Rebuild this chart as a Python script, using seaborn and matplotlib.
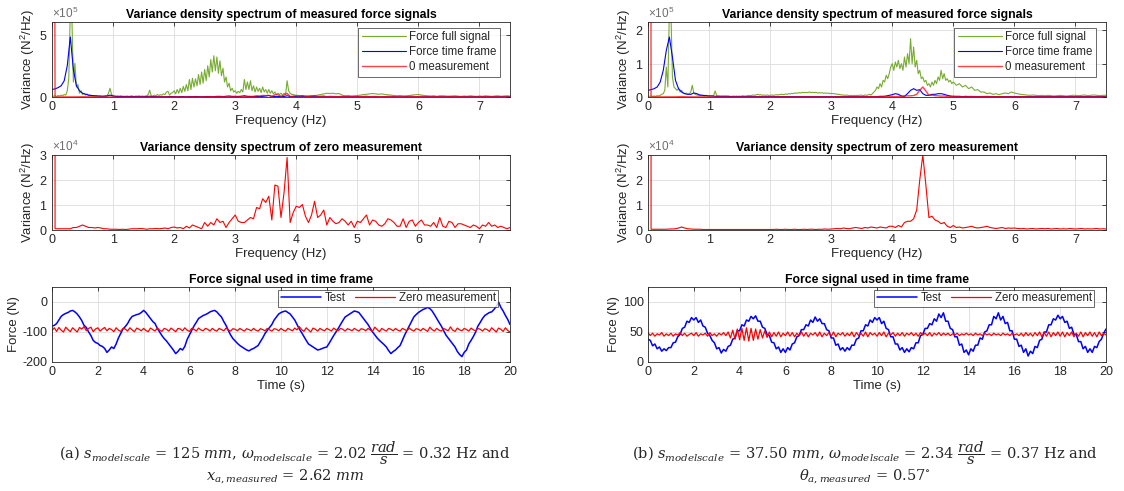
import numpy as np
import matplotlib
matplotlib.use("Agg")
import matplotlib.pyplot as plt
from matplotlib.ticker import ScalarFormatter
import seaborn as sns

# ---------------- DATA ----------------
# spectra step sizes (Hz): fine part and coarse part
F_FINE = 0.025
F_COARSE = 0.05

# (a) left column -------------------------------------------------------
# Force full signal, x1e5 N^2/Hz, 0 .. 3.975 Hz (step 0.025)
green_a_fine = [
    0.10, 0.05, 0.10, 0.05, 0.12, 0.08, 0.15, 0.10,
    0.20, 0.15, 0.50, 1.50, 7.00, 6.50, 1.20, 2.70,
    0.80, 1.00, 0.30, 0.50, 0.20, 0.30, 0.15, 0.25,
    0.10, 0.15, 0.08, 0.10, 0.06, 0.12, 0.05, 0.08,
    0.06, 0.05, 0.08, 0.10, 0.10, 0.30, 0.70, 0.20,
    0.10, 0.08, 0.05, 0.08, 0.06, 0.10, 0.05, 0.07,
    0.05, 0.08, 0.06, 0.05, 0.10, 0.06, 0.05, 0.08,
    0.06, 0.10, 0.05, 0.08, 0.06, 0.07, 0.10, 0.20,
    0.55, 0.10, 0.08, 0.15, 0.10, 0.20, 0.12, 0.18,
    0.15, 0.25, 0.20, 0.40, 0.45, 0.15, 0.30, 0.35,
    0.50, 0.25, 0.60, 0.30, 0.70, 0.35, 0.85, 0.45,
    1.00, 0.50, 1.40, 0.60, 1.50, 0.80, 1.45, 0.90,
    1.80, 1.00, 2.00, 1.10, 2.20, 1.30, 2.50, 1.60,
    3.00, 2.00, 3.30, 2.10, 3.20, 1.90, 2.90, 1.70,
    2.30, 1.20, 1.60, 0.80, 1.10, 0.50, 0.70, 0.40,
    0.50, 0.30, 0.45, 0.35, 0.60, 0.40, 1.40, 0.60,
    1.20, 0.60, 1.30, 0.50, 0.90, 0.40, 0.80, 0.45,
    0.70, 0.35, 0.80, 0.40, 0.60, 0.30, 0.60, 0.30,
    0.50, 0.25, 0.40, 0.20, 0.30, 0.20, 0.30, 0.15,
    0.30, 0.20, 1.30, 0.50, 0.30, 0.20, 0.20, 0.15,
]
# Force full signal, x1e5, 4.0 .. 7.5 Hz (step 0.05)
green_a_coarse = [
    0.15, 0.10, 0.12, 0.08, 0.10, 0.12, 0.10, 0.15, 0.20, 0.25,
    0.30, 0.28, 0.30, 0.25, 0.28, 0.15, 0.10, 0.12, 0.08, 0.10,
    0.12, 0.15, 0.20, 0.22, 0.25, 0.28, 0.25, 0.22, 0.25, 0.20,
    0.18, 0.15, 0.12, 0.10, 0.12, 0.08, 0.10, 0.12, 0.15, 0.18,
    0.20, 0.15, 0.12, 0.10, 0.08, 0.10, 0.06, 0.08, 0.10, 0.08,
    0.06, 0.08, 0.10, 0.07, 0.05, 0.08, 0.06, 0.10, 0.07, 0.05,
    0.08, 0.06, 0.10, 0.07, 0.05, 0.08, 0.10, 0.06, 0.08, 0.10,
    0.08,
]
# Force time frame, x1e5, 0 .. 7.5 Hz (step 0.05)
blue_a = [
    0.60, 0.65, 0.75, 0.90, 1.30, 2.50, 4.80, 2.20, 0.90, 0.50,
    0.30, 0.22, 0.15, 0.12, 0.10, 0.08, 0.07, 0.06, 0.08, 0.15,
    0.08, 0.05, 0.04, 0.04, 0.03, 0.03, 0.04, 0.03, 0.03, 0.03,
    0.03, 0.04, 0.06, 0.03, 0.03, 0.02, 0.03, 0.02, 0.03, 0.04,
    0.03, 0.02, 0.03, 0.03, 0.02, 0.03, 0.03, 0.04, 0.03, 0.02,
    0.03, 0.04, 0.03, 0.03, 0.04, 0.05, 0.03, 0.06, 0.08, 0.04,
    0.03, 0.04, 0.06, 0.10, 0.05, 0.03, 0.04, 0.05, 0.03, 0.05,
    0.08, 0.12, 0.05, 0.03, 0.03, 0.05, 0.04, 0.10, 0.04, 0.03,
    0.03, 0.02, 0.03, 0.02, 0.02, 0.03, 0.02, 0.02, 0.02, 0.02,
    0.02, 0.02, 0.02, 0.02, 0.02, 0.02, 0.02, 0.02, 0.02, 0.02,
    0.02, 0.01, 0.02, 0.01, 0.02, 0.01, 0.02, 0.01, 0.01, 0.02,
    0.01, 0.01, 0.02, 0.01, 0.01, 0.01, 0.02, 0.01, 0.01, 0.01,
    0.01, 0.01, 0.01, 0.02, 0.01, 0.01, 0.01, 0.01, 0.01, 0.01,
    0.01, 0.01, 0.01, 0.01, 0.01, 0.01, 0.01, 0.01, 0.01, 0.01,
    0.01, 0.01, 0.01, 0.01, 0.01, 0.01, 0.01, 0.01, 0.01, 0.01,
    0.01,
]
# Zero measurement, x1e4, 0 .. 7.5 Hz (step 0.05)
red_a = [
    1000, 0.05, 0.05, 0.05, 0.05, 0.05, 0.05, 0.10, 0.10, 0.15,
    0.20, 0.15, 0.10, 0.10, 0.08, 0.10, 0.08, 0.05, 0.05, 0.03,
    0.03, 0.03, 0.02, 0.03, 0.02, 0.03, 0.05, 0.05, 0.05, 0.06,
    0.05, 0.03, 0.05, 0.05, 0.06, 0.05, 0.06, 0.08, 0.05, 0.10,
    0.12, 0.08, 0.10, 0.05, 0.15, 0.08, 0.20, 0.15, 0.10, 0.05,
    0.30, 0.15, 0.30, 0.20, 0.45, 0.30, 0.35, 0.10, 0.30, 0.45,
    0.60, 0.35, 0.30, 0.30, 0.40, 0.50, 0.45, 0.90, 0.85, 1.25,
    1.10, 1.35, 0.40, 1.80, 1.75, 0.50, 1.50, 2.90, 0.30, 0.70,
    0.95, 0.90, 1.02, 0.55, 0.30, 0.60, 1.15, 0.50, 0.60, 0.80,
    0.20, 0.50, 0.35, 0.25, 0.30, 0.45, 0.35, 0.20, 0.35, 0.10,
    0.35, 0.30, 0.45, 0.60, 0.20, 0.40, 0.35, 0.20, 0.15, 0.25,
    0.45, 0.40, 0.30, 0.15, 0.15, 0.45, 0.10, 0.35, 0.40, 0.15,
    0.30, 0.40, 0.20, 0.20, 0.15, 0.30, 0.10, 0.50, 0.15, 0.10,
    0.35, 0.30, 0.10, 0.25, 0.25, 0.20, 0.15, 0.10, 0.20, 0.15,
    0.05, 0.20, 0.15, 0.30, 0.15, 0.20, 0.10, 0.15, 0.10, 0.05,
    0.10,
]

# (b) right column ------------------------------------------------------
# Force full signal, x1e5, 0 .. 4.975 Hz (step 0.025)
green_b_fine = [
    0.02, 0.02, 0.03, 0.02, 0.03, 0.02, 0.04, 0.03,
    0.05, 0.08, 0.10, 0.20, 0.90, 0.30, 2.60, 2.60,
    0.60, 0.30, 0.25, 0.20, 0.25, 0.15, 0.20, 0.12,
    0.10, 0.12, 0.08, 0.10, 0.15, 0.35, 0.12, 0.08,
    0.06, 0.05, 0.04, 0.05, 0.04, 0.03, 0.05, 0.04,
    0.03, 0.04, 0.03, 0.05, 0.18, 0.04, 0.03, 0.03,
    0.02, 0.03, 0.02, 0.03, 0.02, 0.03, 0.02, 0.02,
    0.03, 0.02, 0.03, 0.02, 0.03, 0.02, 0.04, 0.03,
    0.03, 0.04, 0.05, 0.04, 0.05, 0.06, 0.05, 0.07,
    0.08, 0.06, 0.07, 0.05, 0.06, 0.05, 0.06, 0.05,
    0.05, 0.06, 0.05, 0.06, 0.07, 0.06, 0.07, 0.08,
    0.08, 0.07, 0.09, 0.08, 0.10, 0.09, 0.11, 0.10,
    0.12, 0.11, 0.12, 0.13, 0.12, 0.14, 0.13, 0.14,
    0.13, 0.14, 0.15, 0.13, 0.14, 0.13, 0.14, 0.12,
    0.13, 0.12, 0.13, 0.11, 0.12, 0.11, 0.12, 0.10,
    0.11, 0.10, 0.10, 0.09, 0.08, 0.08, 0.07, 0.06,
    0.06, 0.05, 0.06, 0.05, 0.04, 0.05, 0.04, 0.05,
    0.04, 0.05, 0.04, 0.06, 0.05, 0.04, 0.06, 0.05,
    0.06, 0.08, 0.06, 0.10, 0.15, 0.20, 0.30, 0.25,
    0.40, 0.30, 0.50, 0.45, 0.65, 0.55, 0.70, 0.90,
    1.00, 0.80, 1.05, 0.90, 1.10, 0.85, 1.00, 0.80,
    1.20, 0.90, 1.30, 1.00, 1.75, 1.00, 1.50, 0.90,
    1.10, 0.70, 0.80, 0.55, 0.60, 0.45, 0.50, 0.35,
    0.40, 0.30, 0.45, 0.35, 0.50, 0.40, 0.60, 0.50,
    0.80, 0.55, 0.70, 0.50, 0.55, 0.45, 0.50, 0.40,
]
# Force full signal, x1e5, 5.0 .. 7.5 Hz (step 0.05)
green_b_coarse = [
    0.45, 0.35, 0.40, 0.30, 0.35, 0.25, 0.30, 0.20, 0.22, 0.15,
    0.15, 0.10, 0.12, 0.08, 0.10, 0.07, 0.10, 0.12, 0.10, 0.15,
    0.12, 0.10, 0.08, 0.07, 0.06, 0.05, 0.06, 0.05, 0.04, 0.05,
    0.04, 0.05, 0.04, 0.03, 0.04, 0.05, 0.04, 0.03, 0.04, 0.05,
    0.05, 0.04, 0.05, 0.06, 0.04, 0.05, 0.06, 0.05, 0.04, 0.05,
    0.05,
]
# Force time frame, x1e5, 0 .. 7.5 Hz (step 0.05)
blue_b = [
    0.20, 0.22, 0.25, 0.30, 0.45, 0.80, 1.40, 1.80, 1.20, 0.50,
    0.25, 0.15, 0.10, 0.08, 0.08, 0.12, 0.10, 0.06, 0.05, 0.04,
    0.03, 0.03, 0.02, 0.02, 0.02, 0.02, 0.02, 0.01, 0.01, 0.01,
    0.01, 0.01, 0.01, 0.01, 0.01, 0.01, 0.01, 0.01, 0.01, 0.01,
    0.01, 0.01, 0.01, 0.01, 0.01, 0.01, 0.01, 0.01, 0.01, 0.01,
    0.01, 0.01, 0.01, 0.01, 0.01, 0.01, 0.01, 0.01, 0.01, 0.01,
    0.01, 0.01, 0.01, 0.01, 0.01, 0.01, 0.01, 0.01, 0.01, 0.01,
    0.01, 0.01, 0.01, 0.01, 0.01, 0.01, 0.02, 0.02, 0.03, 0.05,
    0.07, 0.10, 0.08, 0.03, 0.02, 0.10, 0.20, 0.25, 0.20, 0.22,
    0.10, 0.05, 0.05, 0.08, 0.08, 0.10, 0.10, 0.08, 0.05, 0.03,
    0.02, 0.02, 0.02, 0.01, 0.02, 0.01, 0.01, 0.01, 0.01, 0.01,
    0.01, 0.01, 0.01, 0.01, 0.01, 0.01, 0.01, 0.01, 0.01, 0.01,
    0.01, 0.01, 0.01, 0.01, 0.01, 0.01, 0.01, 0.01, 0.01, 0.01,
    0.01, 0.01, 0.01, 0.01, 0.01, 0.01, 0.01, 0.01, 0.01, 0.01,
    0.01, 0.01, 0.01, 0.01, 0.01, 0.01, 0.01, 0.01, 0.01, 0.01,
    0.01,
]
# Zero measurement, x1e4, 0 .. 7.5 Hz (step 0.05)
red_b = [
    1000, 0.03, 0.03, 0.03, 0.03, 0.03, 0.03, 0.04, 0.04, 0.05,
    0.08, 0.12, 0.08, 0.05, 0.04, 0.03, 0.03, 0.03, 0.02, 0.02,
    0.02, 0.02, 0.02, 0.02, 0.02, 0.02, 0.02, 0.02, 0.02, 0.02,
    0.02, 0.02, 0.02, 0.02, 0.02, 0.02, 0.02, 0.02, 0.02, 0.02,
    0.02, 0.02, 0.03, 0.02, 0.02, 0.03, 0.02, 0.02, 0.03, 0.02,
    0.02, 0.03, 0.02, 0.03, 0.03, 0.02, 0.03, 0.03, 0.04, 0.03,
    0.04, 0.05, 0.06, 0.05, 0.08, 0.06, 0.05, 0.08, 0.10, 0.08,
    0.06, 0.10, 0.08, 0.12, 0.10, 0.08, 0.12, 0.10, 0.08, 0.15,
    0.15, 0.10, 0.18, 0.12, 0.30, 0.35, 0.35, 0.45, 0.80, 2.00,
    3.00, 1.80, 0.50, 0.55, 0.40, 0.35, 0.25, 0.30, 0.15, 0.10,
    0.18, 0.10, 0.12, 0.08, 0.10, 0.12, 0.15, 0.10, 0.08, 0.10,
    0.12, 0.15, 0.10, 0.08, 0.06, 0.08, 0.10, 0.06, 0.08, 0.07,
    0.08, 0.06, 0.05, 0.06, 0.04, 0.05, 0.06, 0.04, 0.05, 0.06,
    0.05, 0.06, 0.04, 0.05, 0.06, 0.04, 0.05, 0.04, 0.06, 0.05,
    0.04, 0.05, 0.06, 0.04, 0.05, 0.04, 0.05, 0.06, 0.04, 0.05,
    0.04,
]

# time signals, sampled every 0.1 s from 0 to 20 s (N)
T_STEP = 0.1
test_a = [
    -80, -78, -72, -60, -48, -42, -38, -35, -30, -28,
    -33, -40, -50, -62, -78, -85, -100, -112, -128, -135,
    -138, -145, -148, -155, -168, -160, -150, -155, -140, -120,
    -105, -90, -82, -72, -58, -48, -45, -42, -40, -35,
    -28, -35, -45, -55, -65, -72, -88, -100, -112, -122,
    -130, -140, -150, -160, -172, -165, -155, -160, -148, -125,
    -110, -95, -80, -68, -55, -50, -45, -42, -38, -33,
    -30, -28, -33, -42, -50, -65, -78, -95, -110, -122,
    -130, -138, -145, -150, -155, -160, -163, -158, -155, -150,
    -145, -132, -120, -105, -95, -85, -75, -60, -50, -40,
    -35, -32, -30, -35, -40, -50, -60, -75, -90, -102,
    -115, -128, -140, -145, -150, -155, -160, -158, -155, -152,
    -150, -138, -125, -112, -100, -88, -75, -62, -50, -45,
    -40, -35, -30, -32, -35, -45, -55, -65, -75, -88,
    -100, -110, -120, -128, -135, -142, -150, -162, -172, -165,
    -160, -152, -145, -128, -110, -95, -80, -65, -50, -42,
    -35, -30, -25, -22, -18, -22, -30, -42, -55, -68,
    -80, -95, -110, -120, -130, -140, -150, -165, -175, -182,
    -168, -160, -140, -128, -115, -100, -80, -68, -55, -45,
    -40, -35, -33, -25, -15, 0, -18, -30, -45, -58,
    -75,
]
zero_a = [
    -95, -86, -98, -85, -94, -100, -84, -92, -99, -86,
    -93, -100, -85, -90, -82, -96, -88, -84, -99, -90,
    -86, -97, -90, -85, -96, -88, -92, -99, -86, -94,
    -98, -88, -90, -97, -86, -93, -99, -87, -91, -96,
    -88, -95, -99, -87, -92, -97, -86, -94, -98, -88,
    -91, -97, -87, -93, -99, -88, -90, -96, -86, -94,
    -98, -88, -91, -97, -87, -93, -96, -88, -91, -97,
    -88, -94, -97, -88, -92, -96, -87, -93, -97, -89,
    -91, -96, -88, -93, -97, -89, -92, -96, -88, -94,
    -97, -89, -92, -96, -88, -93, -97, -89, -91, -96,
    -88, -94, -97, -88, -92, -96, -87, -93, -82, -92,
    -98, -86, -93, -100, -87, -91, -97, -88, -93, -96,
    -88, -92, -97, -87, -93, -96, -88, -91, -97, -89,
    -92, -96, -88, -93, -97, -89, -91, -96, -88, -94,
    -97, -84, -92, -99, -88, -93, -97, -88, -91, -96,
    -88, -94, -97, -88, -92, -96, -87, -93, -97, -89,
    -91, -96, -88, -93, -98, -84, -92, -97, -88, -94,
    -97, -88, -92, -96, -83, -94, -98, -87, -93, -96,
    -88, -92, -97, -87, -93, -96, -88, -91, -97, -89,
    -92, -98, -86, -93, -100, -87, -91, -98, -86, -95,
    -100,
]
test_b = [
    38, 36, 27, 30, 22, 25, 18, 22, 19, 24,
    24, 32, 33, 42, 46, 56, 58, 68, 66, 74,
    70, 74, 66, 70, 60, 58, 48, 44, 36, 32,
    22, 24, 15, 21, 18, 26, 28, 38, 40, 52,
    52, 62, 60, 70, 68, 76, 72, 77, 68, 68,
    58, 56, 46, 44, 33, 32, 22, 25, 16, 22,
    16, 24, 20, 30, 32, 42, 44, 54, 54, 62,
    60, 70, 66, 75, 68, 72, 64, 64, 54, 52,
    40, 40, 28, 30, 20, 24, 18, 24, 20, 28,
    28, 38, 40, 52, 52, 62, 60, 70, 66, 74,
    70, 74, 64, 68, 56, 54, 42, 42, 30, 30,
    20, 24, 16, 22, 17, 24, 22, 32, 32, 44,
    46, 56, 56, 64, 62, 72, 68, 80, 74, 82,
    68, 68, 56, 54, 42, 42, 28, 30, 16, 20,
    12, 22, 18, 28, 28, 40, 38, 50, 52, 62,
    62, 76, 72, 82, 70, 76, 64, 66, 52, 52,
    38, 38, 26, 28, 16, 22, 10, 18, 14, 26,
    24, 36, 38, 50, 50, 62, 62, 72, 70, 78,
    72, 76, 66, 68, 56, 58, 46, 46, 34, 34,
    22, 26, 16, 22, 16, 26, 24, 34, 38, 48,
    55,
]
zero_b = [
    49, 44, 48, 43, 47, 45, 49, 43, 47, 44,
    48, 43, 47, 45, 49, 44, 48, 43, 46, 48,
    44, 49, 43, 47, 45, 48, 43, 49, 44, 47,
    43, 48, 45, 49, 44, 50, 40, 53, 38, 55,
    37, 56, 36, 57, 35, 56, 36, 55, 38, 54,
    40, 52, 41, 50, 42, 49, 43, 50, 42, 48,
    44, 50, 43, 49, 42, 48, 44, 50, 43, 49,
    42, 48, 45, 49, 43, 50, 42, 48, 44, 49,
    43, 50, 42, 48, 45, 49, 43, 48, 44, 50,
    42, 49, 44, 48, 43, 50, 42, 49, 45, 48,
    43, 49, 44, 50, 42, 48, 45, 49, 43, 48,
    44, 49, 43, 48, 45, 49, 44, 48, 43, 49,
    45, 48, 44, 49, 43, 48, 45, 49, 44, 48,
    45, 48, 44, 47, 45, 48, 44, 47, 45, 48,
    45, 47, 44, 48, 45, 47, 44, 48, 45, 47,
    44, 48, 45, 47, 44, 48, 45, 47, 44, 48,
    45, 47, 44, 48, 43, 49, 44, 48, 43, 49,
    44, 50, 42, 49, 43, 50, 42, 49, 44, 50,
    43, 50, 42, 49, 44, 50, 42, 48, 43, 50,
    42, 49, 44, 50, 43, 49, 42, 50, 44, 48,
    45,
]

# labels
title_top = "Variance density spectrum of measured force signals"
title_mid = "Variance density spectrum of zero measurement"
title_bot = "Force signal used in time frame"
legend_top = ["Force full signal", "Force time frame", "0 measurement"]
legend_bot = ["Test", "Zero measurement"]
caption_a = [r"(a) $s_{modelscale}$ = 125 $mm$, $\omega_{modelscale}$ = 2.02 $\dfrac{rad}{s}$ = 0.32 Hz and",
             r"$x_{a,measured}$ = 2.62 $mm$"]
caption_b = [r"(b) $s_{modelscale}$ = 37.50 $mm$, $\omega_{modelscale}$ = 2.34 $\dfrac{rad}{s}$ = 0.37 Hz and",
             r"$\theta_{a,measured}$ = 0.57$^{\circ}$"]

# ---------------- STYLE ----------------
sns.set_style("white")
plt.rcParams["font.family"] = ["Liberation Sans", "DejaVu Sans"]
plt.rcParams["axes.unicode_minus"] = False
plt.rcParams["mathtext.fontset"] = "custom"
plt.rcParams["mathtext.rm"] = "Liberation Sans"
plt.rcParams["mathtext.it"] = "Liberation Sans:italic"

GREEN = "#77AC30"
BLUE = "#0000FF"
RED = "#FF0000"
DARK = "#262626"

W, H = 1124, 491
fig = plt.figure(figsize=(W / 100, H / 100), dpi=100)


def add_ax(x0, y_top, w, h):
    return fig.add_axes([x0 / W, 1 - (y_top + h) / H, w / W, h / H])


def style_ax(ax):
    ax.grid(True, color="#dcdcdc", linewidth=0.6)
    ax.set_axisbelow(True)
    for s in ax.spines.values():
        s.set_color(DARK)
        s.set_linewidth(0.6)
        s.set_visible(True)
    ax.tick_params(direction="in", length=3, width=0.6, top=True, right=True,
                   labelsize=9, colors=DARK, pad=3)


def sci_y(ax):
    fmt = ScalarFormatter(useMathText=True)
    fmt.set_powerlimits((0, 0))
    ax.yaxis.set_major_formatter(fmt)
    ot = ax.yaxis.get_offset_text()
    ot.set_fontsize(8.5)
    ot.set_color("#6e6e6e")


def freq_axis(fine, coarse, fine_step=F_FINE, coarse_step=F_COARSE):
    f1 = np.arange(len(fine)) * fine_step
    f2 = len(fine) * fine_step + np.arange(len(coarse)) * coarse_step
    return np.concatenate([f1, f2]), np.concatenate([fine, coarse])


cols = [
    dict(x0=52, gf=green_a_fine, gc=green_a_coarse, blue=blue_a, red=red_a,
         ytop=6e5, yt_top=[0, 5e5], test=test_a, zero=zero_a,
         ylim_bot=(-200, 50), yt_bot=[-200, -100, 0], cap=caption_a, capx=285),
    dict(x0=648, gf=green_b_fine, gc=green_b_coarse, blue=blue_b, red=red_b,
         ytop=2.25e5, yt_top=[0, 1e5, 2e5], test=test_b, zero=zero_b,
         ylim_bot=(0, 125), yt_bot=[0, 50, 100], cap=caption_b, capx=865),
]

AW = 458
for c in cols:
    # ---- top: spectra of force signals
    ax = add_ax(c["x0"], 22, AW, 75)
    fg, vg = freq_axis(c["gf"], c["gc"])
    fb = np.arange(len(c["blue"])) * F_COARSE
    fr = np.arange(len(c["red"])) * F_COARSE
    sns.lineplot(x=fg, y=np.array(vg) * 1e5, ax=ax, color=GREEN, linewidth=0.8,
                 label=legend_top[0], sort=False, estimator=None)
    sns.lineplot(x=fb, y=np.array(c["blue"]) * 1e5, ax=ax, color=BLUE, linewidth=0.8,
                 label=legend_top[1], sort=False, estimator=None)
    sns.lineplot(x=fr, y=np.array(c["red"]) * 1e4, ax=ax, color=RED, linewidth=1.0,
                 alpha=0.75, label=legend_top[2], sort=False, estimator=None)
    ax.set_xlim(0, 7.5)
    ax.set_ylim(0, c["ytop"])
    ax.set_xticks(range(0, 8))
    ax.set_yticks(c["yt_top"])
    style_ax(ax)
    sci_y(ax)
    ax.set_title(title_top, fontsize=8.8, fontweight="bold", pad=3, color="black")
    ax.set_xlabel("Frequency (Hz)", fontsize=9.5, color=DARK, labelpad=1)
    ax.set_ylabel("Variance (N$^2$/Hz)", fontsize=9.5, color=DARK, labelpad=2)
    leg = ax.legend(loc="upper right", bbox_to_anchor=(1 - 10 / AW, 1 - 6 / 75),
                    fontsize=8.3, frameon=True, fancybox=False, borderpad=0.3,
                    labelspacing=0.25, handlelength=3.8, handletextpad=0.3,
                    borderaxespad=0)
    leg.get_frame().set_edgecolor(DARK)
    leg.get_frame().set_linewidth(0.6)

    # ---- middle: zero measurement spectrum
    ax = add_ax(c["x0"], 155, AW, 75)
    sns.lineplot(x=fr, y=np.array(c["red"]) * 1e4, ax=ax, color=RED, linewidth=0.8,
                 sort=False, estimator=None)
    ax.set_xlim(0, 7.5)
    ax.set_ylim(0, 3e4)
    ax.set_xticks(range(0, 8))
    ax.set_yticks([0, 1e4, 2e4, 3e4])
    style_ax(ax)
    sci_y(ax)
    ax.set_title(title_mid, fontsize=8.8, fontweight="bold", pad=3, color="black")
    ax.set_xlabel("Frequency (Hz)", fontsize=9.5, color=DARK, labelpad=1)
    ax.set_ylabel("Variance (N$^2$/Hz)", fontsize=9.5, color=DARK, labelpad=2)

    # ---- bottom: time signals
    ax = add_ax(c["x0"], 287, AW, 75)
    t = np.arange(len(c["test"])) * T_STEP
    sns.lineplot(x=t, y=c["test"], ax=ax, color=BLUE, linewidth=1.1,
                 label=legend_bot[0], sort=False, estimator=None)
    sns.lineplot(x=t, y=c["zero"], ax=ax, color=RED, linewidth=0.9,
                 label=legend_bot[1], sort=False, estimator=None)
    ax.set_xlim(0, 20)
    ax.set_ylim(*c["ylim_bot"])
    ax.set_xticks(range(0, 21, 2))
    ax.set_yticks(c["yt_bot"])
    style_ax(ax)
    ax.set_title(title_bot, fontsize=8.8, fontweight="bold", pad=3, color="black")
    ax.set_xlabel("Time (s)", fontsize=9.5, color=DARK, labelpad=1)
    ax.set_ylabel("Force (N)", fontsize=9.5, color=DARK, labelpad=2)
    leg = ax.legend(loc="upper right", bbox_to_anchor=(1 - 12 / AW, 1 - 3 / 75),
                    ncol=2, fontsize=8.3, frameon=True, fancybox=False, borderpad=0.2,
                    handlelength=3.5, handletextpad=0.3, columnspacing=0.8,
                    borderaxespad=0)
    leg.get_frame().set_edgecolor(DARK)
    leg.get_frame().set_linewidth(0.6)

    # ---- caption
    fig.text(c["capx"] / W, 1 - 453 / H, c["cap"][0], ha="center", va="center",
             fontsize=10.5, family="DejaVu Serif", math_fontfamily="dejavuserif")
    fig.text(c["capx"] / W, 1 - 477 / H, c["cap"][1], ha="center", va="center",
             fontsize=10.5, family="DejaVu Serif", math_fontfamily="dejavuserif")

fig.savefig("out.png", dpi=100)
